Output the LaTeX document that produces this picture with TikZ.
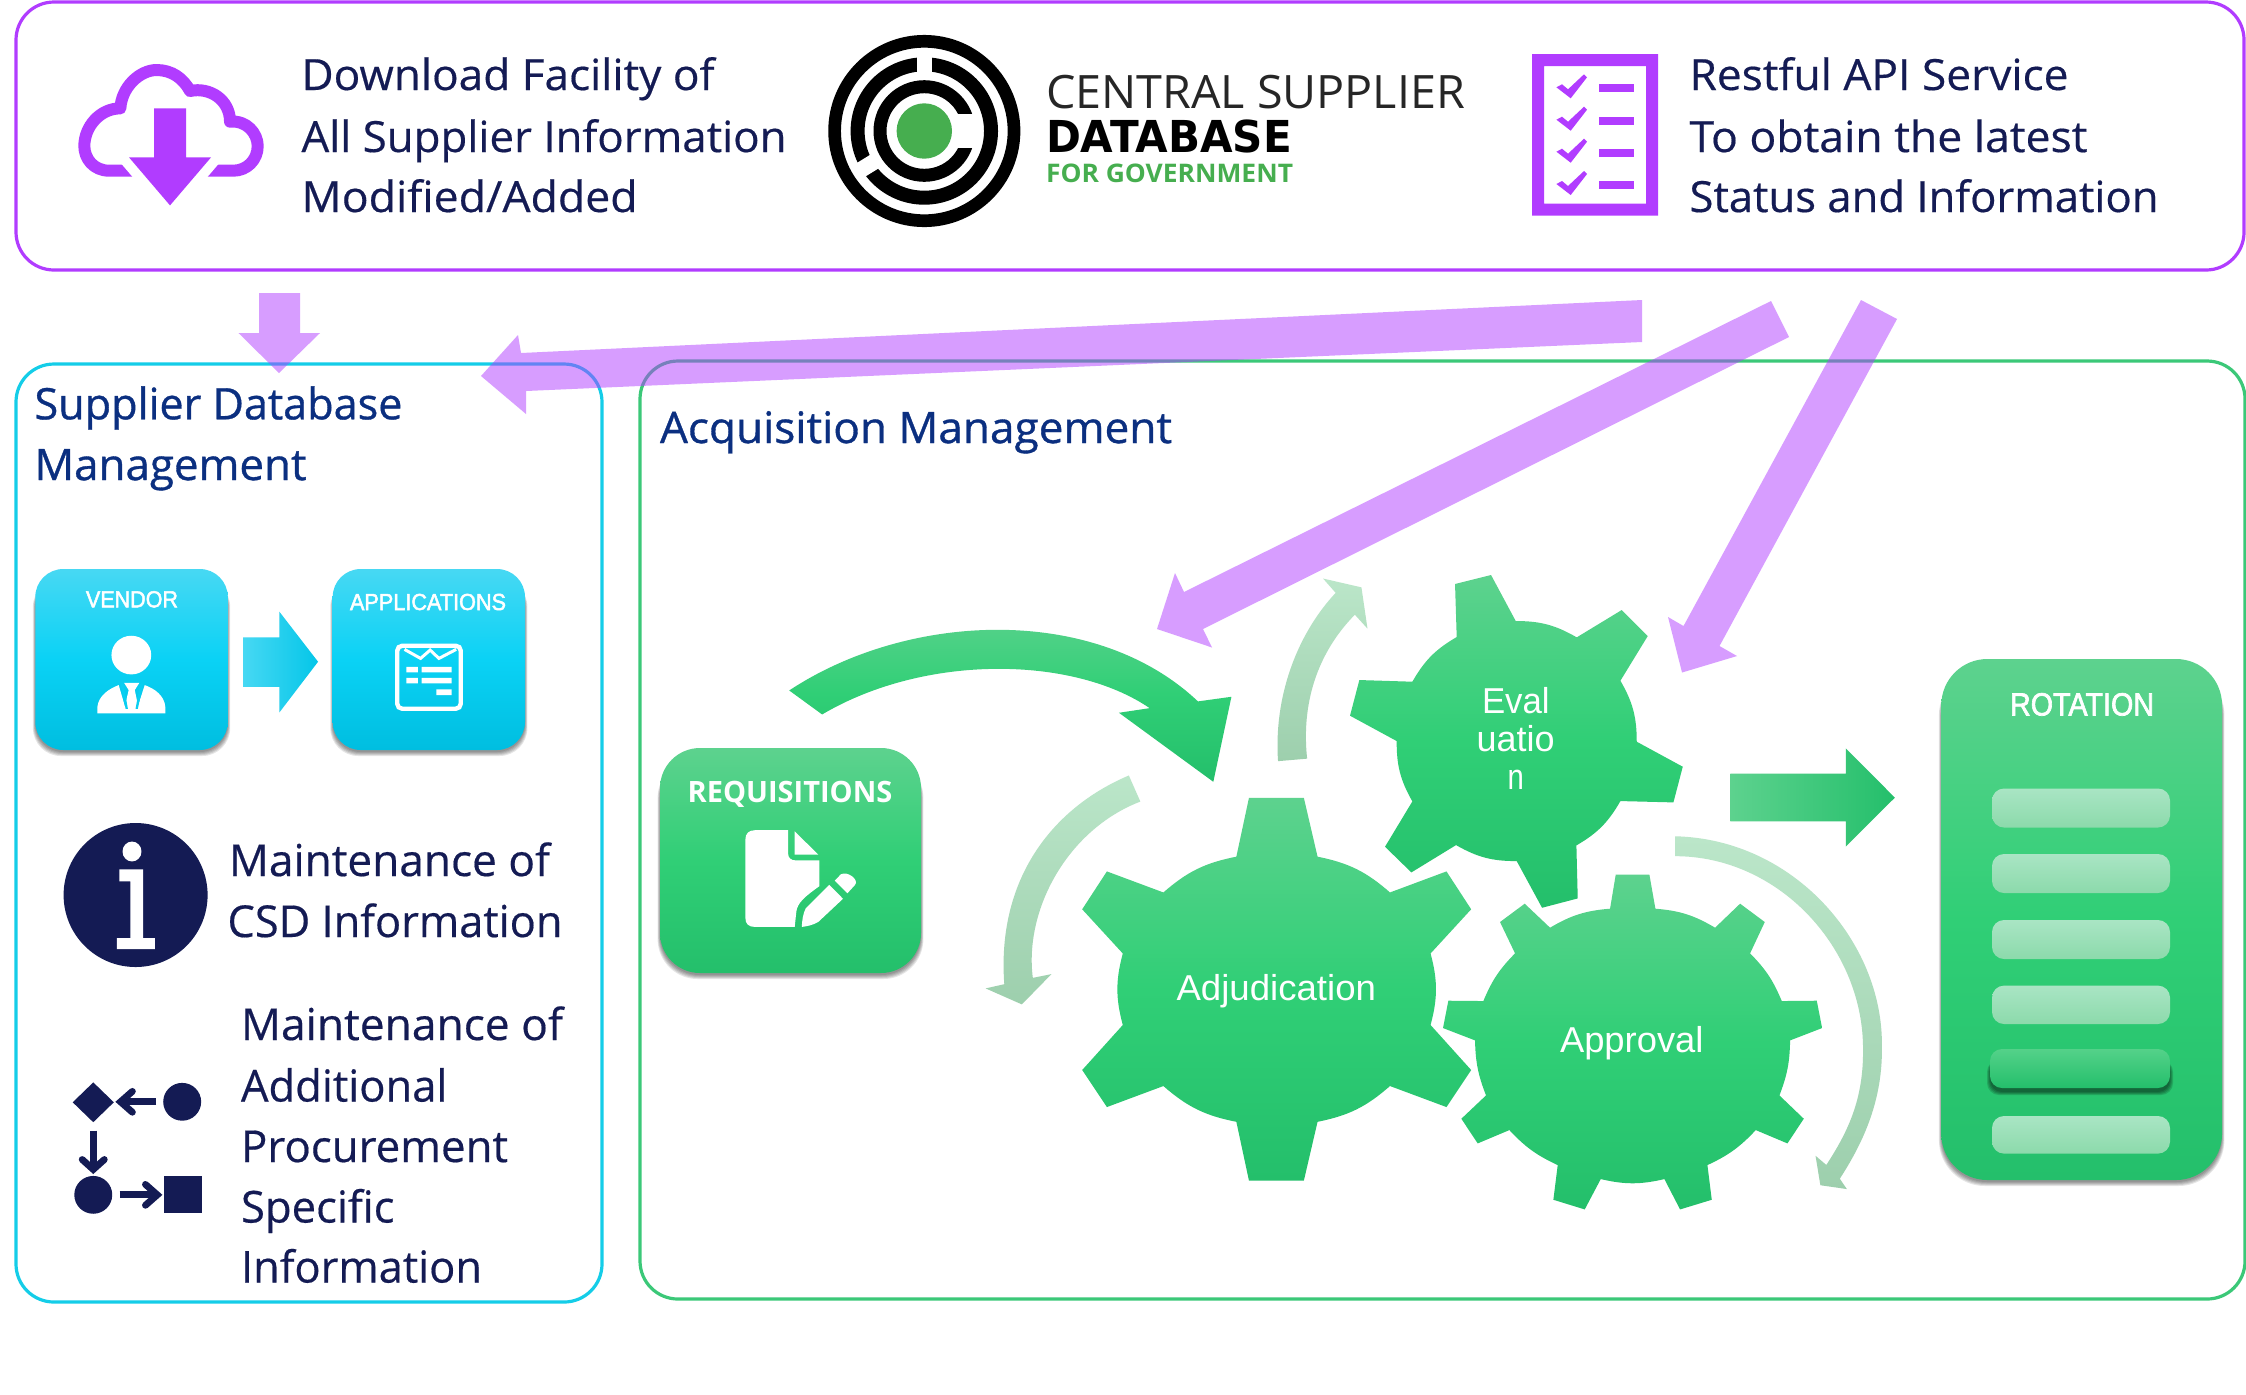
\documentclass[tikz,border=0pt]{standalone}
\usepackage{graphicx}
\usepackage{fontspec}
\setmainfont{Open Sans}
\newfontfamily\bodyf[FakeBold=0.4]{Open Sans}
\newfontfamily\ttlf[FakeBold=0.8]{Open Sans}
\newfontfamily\arl{Liberation Sans}
\newfontfamily\arlb[FakeBold=2.2]{Liberation Sans}
\newfontfamily\dvs{DejaVu Sans}
\definecolor{purp}{HTML}{B13CFF}
\definecolor{navy}{HTML}{141B54}
\definecolor{ttl}{HTML}{0B2F80}
\definecolor{gtop}{HTML}{5DD28E}
\definecolor{gmid}{HTML}{30CF76}
\definecolor{gbot}{HTML}{24BF6B}
\definecolor{ctop}{HTML}{47D8F3}
\definecolor{cmid}{HTML}{0AD2F5}
\definecolor{cbot}{HTML}{00BEE0}
\definecolor{ltop}{HTML}{BBE6C9}
\definecolor{lbot}{HTML}{9DCFAD}
\definecolor{logogreen}{HTML}{46AE4F}
\definecolor{framecyan}{HTML}{14CDE8}
\definecolor{framegreen}{HTML}{3BC878}
\definecolor{bartop}{HTML}{A9E5C4}
\definecolor{barbot}{HTML}{8CDAAB}
\newcommand\rb[2]{\resizebox{0.5\dimexpr #1pt\relax}{\height}{#2}}
\newcommand\softsh[5]{\foreach \i in {0,...,4}{\fill[black,opacity=.1,rounded corners=#5pt] ({#1-\i*0.6},{#2+10}) rectangle ({#3+\i*0.6},{#4+2+\i});}}
\tikzset{
  tx/.style={inner sep=0pt,outer sep=0pt,anchor=base west},
  body/.style={tx,text=navy,font=\bodyf\fontsize{21.5}{24}\selectfont},
  bodyl/.style={tx,text=navy,font=\bodyf\fontsize{22}{24}\selectfont},
  title/.style={tx,text=ttl,font=\ttlf\fontsize{21.7}{24}\selectfont},
  gearlbl/.style={tx,text=white,font=\arl\fontsize{18}{20}\selectfont},
  gearfill/.style={top color=gtop,bottom color=gbot,middle color=gmid},
  cyanfill/.style={top color=ctop,bottom color=cbot,middle color=cmid},
  lightfill/.style={top color=ltop,bottom color=lbot},
  blockarrow/.style={fill=purp,opacity=.5},
  panel/.style={draw,line width=1.6pt,rounded corners=19pt}
}
\begin{document}
\begin{tikzpicture}[x=0.5pt,y=-0.5pt]
\useasboundingbox (0,0) rectangle (2246,1394);
\fill[white] (0,0) rectangle (2246,1394);

% frames
\path[panel,draw=purp] (16,2) rectangle (2244,270);
\path[panel,draw=framecyan] (16,364) rectangle (602,1302);
\path[panel,draw=framegreen] (640,361) rectangle (2245,1299);

% cloud icon
\begin{scope}[shift={(60,40)},x=0.1667pt,y=-0.1667pt]
\draw[purp,line width=6pt,line join=round] (240,392) -- (148,392) .. controls (100,392) and (73,355) .. (73,318) .. controls (73,260) and (120,205) .. (181,205) .. controls (185,140) and (240,90) .. (290,90) .. controls (335,90) and (370,115) .. (390,153) .. controls (450,140) and (510,180) .. (510,245) .. controls (560,240) and (593,280) .. (593,318) .. controls (593,360) and (560,392) .. (520,392) -- (420,392);
\fill[white] (207,352) -- (282,352) -- (282,205) -- (378,205) -- (378,352) -- (453,352) -- (330,496) -- cycle;
\draw[white,line width=10pt,line join=round] (207,352) -- (330,496) -- (453,352);
\fill[purp] (282,205) -- (378,205) -- (378,352) -- (453,352) -- (330,496) -- (207,352) -- (282,352) -- cycle;
\end{scope}

\node[body] (t1) at (301.5,90) {\rb{413}{Download Facility of}};
\node[body] (t2) at (301.5,152) {\rb{485}{All Supplier Information}};
\node[body] (t3) at (301.5,212) {\rb{336}{Modified/Added}};

% logo
\draw[black,line width=6.35pt] (924.3,131) circle [radius=89.7];
\draw[black,line width=7pt] (924.3,131) circle [radius=66.7];
\draw[black,line width=6.5pt] (924.3,131) circle [radius=44.3];
\draw[white,line width=7.5pt] (924.3,52) -- (924.3,80);
\draw[white,line width=8pt] (879.1,158.7) -- (856.1,172.8);
\fill[white] (955,114) rectangle (977,148);
\fill[logogreen] (924.3,131) circle [radius=27.7];
\node[tx,text=black!85,font=\fontsize{23}{25}\selectfont] (l1) at (1046,108.3) {\rb{419}{CENTRAL SUPPLIER}};
\node[tx,text=black,font=\dvs\bfseries\fontsize{22}{25}\selectfont] (l2) at (1046,152) {\rb{246}{DATABASE}};
\node[tx,text=logogreen,font=\bfseries\fontsize{12.8}{15}\selectfont] (l3) at (1046,182) {\rb{247}{FOR GOVERNMENT}};

% checklist
\fill[purp,even odd rule] (1532,54) rectangle (1658,215.7) (1544,66) rectangle (1646,203.7);
\foreach \yc in {88.3,120.7,152.7,185}{
  \fill[purp] (1599.4,\yc-4) rectangle (1633.7,\yc+4);
  \fill[purp] (1556.4,\yc-1) -- (1562,\yc-4) -- (1568,\yc+1) -- (1584,\yc-14) -- (1587,\yc-11) -- (1570.7,\yc+10) -- cycle;
}
\node[body] (r1) at (1689.5,90) {\rb{379}{Restful API Service}};
\node[body] (r2) at (1689.5,152) {\rb{398}{To obtain the latest}};
\node[body] (r3) at (1689.5,212) {\rb{469}{Status and Information}};

% titles
\node[title] (sdb1) at (34.5,419.3) {\rb{368}{Supplier Database}};
\node[title] (sdb2) at (34.5,480) {\rb{272}{Management}};
\node[title] (acq) at (660,443) {\rb{512}{Acquisition Management}};

% vendor / applications
\softsh{35.3}{569}{227.8}{750}{14}
\softsh{332.7}{569}{525}{750}{14}
\shade[cyanfill,rounded corners=14pt] (35.3,569) rectangle (227.8,750);
\shade[cyanfill,rounded corners=14pt] (332.7,569) rectangle (525,750);
\node[tx,text=white,font=\arlb\fontsize{11.6}{13}\selectfont] (vend) at (86,607.3) {\rb{92}{VENDOR}};
\node[tx,text=white,font=\arlb\fontsize{11.6}{13}\selectfont] (apps) at (350,610) {\rb{156}{APPLICATIONS}};
\begin{scope}[shift={(20,360)},x=0.1913pt,y=-0.1667pt]
\fill[white] (291,885) ellipse [x radius=52,y radius=58];
\fill[white] (202,1060) -- (202,1042) .. controls (205,1005) and (235,985) .. (258,975) -- (276,1046) -- (306,1046) -- (326,975) .. controls (350,985) and (378,1005) .. (380,1042) -- (380,1060) -- cycle;
\fill[white] (272,968) -- (312,968) -- (300,990) -- (310,1045) -- (292,1052) -- (273,1045) -- (284,990) -- cycle;
\fill[cmid!85!cbot] (262,970) -- (270,970) -- (282,1046) -- (276,1046) -- cycle;
\fill[cmid!85!cbot] (322,970) -- (314,970) -- (302,1046) -- (308,1046) -- cycle;
\shade[left color=ctop,right color=cbot!60!cmid] (583,832) -- (678,832) -- (678,755) -- (779,905) -- (678,1057) -- (678,980) -- (583,980) -- cycle;
\draw[white,line width=2.2pt,rounded corners=2.5pt] (986,857) rectangle (1152,1046);
\draw[white,line width=1.5pt] (1005,868) -- (1047,895) -- (1072,870) -- (1095,895) -- (1140,868);
\fill[white] (1010,920) rectangle (1040,937) (1050,920) rectangle (1128,937) (1010,953) rectangle (1040,970) (1050,953) rectangle (1128,970) (1088,988) rectangle (1128,1005);
\end{scope}

% info icon
\fill[navy] (135.6,895) circle [radius=72];
\begin{scope}[shift={(0,540)},x=0.1976pt,y=-0.2488pt]
\fill[white] (334,626) ellipse [x radius=24,y radius=20];
\fill[white] (302,662) -- (362,662) -- (362,800) -- (392,800) -- (392,822) -- (296,822) -- (296,800) -- (330,800) -- (330,686) -- (302,686) -- cycle;
% flow icon
\fill[navy] (184,1130) -- (236,1090) -- (288,1130) -- (236,1170) -- cycle;
\fill[navy] (461,1129) ellipse [x radius=48,y radius=38];
\fill[navy] (236,1316) ellipse [x radius=48,y radius=38];
\fill[navy] (414,1278) rectangle (510,1353);
\draw[navy,line width=3.4pt] (395,1129) -- (305,1129);
\draw[navy,line width=3.4pt,line cap=round,line join=miter] (335,1108) -- (305,1129) -- (335,1150);
\draw[navy,line width=3.4pt] (236,1187) -- (236,1265);
\draw[navy,line width=3.4pt,line cap=round,line join=miter] (208,1245) -- (236,1265) -- (264,1245);
\draw[navy,line width=3.4pt] (303,1316) -- (398,1316);
\draw[navy,line width=3.4pt,line cap=round,line join=miter] (368,1295) -- (398,1316) -- (368,1337);
\end{scope}

\node[bodyl] (m1) at (229,876) {\rb{321}{Maintenance of}};
\node[bodyl] (m2) at (227.5,937) {\rb{335}{CSD Information}};
\node[bodyl] (a1) at (241,1040) {\rb{322}{Maintenance of}};
\node[bodyl] (a2) at (241,1101.5) {\rb{206.4}{Additional}};
\node[bodyl] (a3) at (241,1162) {\rb{267}{Procurement}};
\node[bodyl] (a4) at (241,1222.5) {\rb{153.5}{Specific}};
\node[bodyl] (a5) at (241,1282.5) {\rb{241}{Information}};

% requisitions panel + adjudication gear + arrows
\softsh{660}{748}{921}{973}{20}
\shade[gearfill,rounded corners=20pt] (660,748) rectangle (921,973);
\node[tx,text=white,font=\bfseries\fontsize{14.7}{17}\selectfont] (req) at (687.7,802) {\rb{204.6}{REQUISITIONS}};
\begin{scope}[shift={(640,560)},x=0.2743pt,y=-0.2104pt]
\fill[white] (270,642) -- (210,642) .. controls (198,642) and (192,650) .. (192,665) -- (192,850) .. controls (192,865) and (198,872) .. (210,872) -- (282,872) -- (285,835) .. controls (287,815) and (300,800) .. (327,775) -- (327,714) -- (285,714) .. controls (275,714) and (270,708) .. (270,698) -- cycle;
\fill[white] (282,645) -- (325,700) -- (282,700) -- cycle;
\fill[white] (345,772) -- (370,805) -- (325,860) .. controls (315,868) and (305,870) .. (295,872) .. controls (295,860) and (297,840) .. (302,828) -- cycle;
\fill[white] (355,762) -- (366,747) .. controls (378,738) and (400,760) .. (392,772) -- (378,792) -- cycle;
% curved green
\shade[gearfill] (272,310) .. controls (490,122) and (830,105) .. (1017,336) -- (1078,325) -- (1045,527) -- (873,363) -- (929,352) .. controls (790,228) and (520,222) .. (332,367) -- cycle;
% light up arrow
\shade[lightfill] (1163,478) .. controls (1155,330) and (1195,180) .. (1268,78) -- (1245,44) -- (1315,65) -- (1326,163) -- (1303,130) .. controls (1235,220) and (1205,340) .. (1216,472) -- cycle;
% light down-left arrow
\shade[lightfill] (891,512) .. controls (750,590) and (650,760) .. (664,1008) -- (630,1018) -- (696,1056) -- (750,984) -- (716,993) .. controls (700,830) and (780,640) .. (912,574) -- cycle;
% adjudication gear
\shade[gearfill] (1110,565) -- (1210,565) -- (1235,705) to[bend left=15] (1367,790) -- (1470,740) -- (1515,830) -- (1441,935) to[bend left=15] (1441,1105) -- (1515,1212) -- (1470,1300) -- (1367,1250) to[bend left=15] (1235,1335) -- (1210,1475) -- (1110,1475) -- (1087,1335) to[bend left=15] (954,1250) -- (851,1300) -- (806,1212) -- (880,1105) to[bend left=15] (880,935) -- (806,830) -- (851,740) -- (954,790) to[bend left=15] (1087,705) -- cycle;
\end{scope}
\node[gearlbl] (adj) at (1176.5,1000.6) {\rb{199.5}{Adjudication}};

% evaluation gear
\begin{scope}[shift={(1330,560)},x=0.1667pt,y=-0.1667pt]
\shade[gearfill] (375,72) -- (483,45) -- (557,183) to[bend left=15] (740,232) -- (875,150) -- (953,228) -- (871,362) to[bend left=15] (920,545) -- (1058,620) -- (1030,727) -- (871,723) to[bend left=15] (739,856) -- (743,1015) -- (636,1043) -- (560,903) to[bend left=15] (378,855) -- (244,937) -- (165,860) -- (247,724) to[bend left=15] (200,543) -- (60,467) -- (88,360) -- (247,365) to[bend left=15] (380,231) -- cycle;
\end{scope}
\node[gearlbl] (ev1) at (1482,713) {\rb{67.7}{Eval}};
\node[gearlbl] (ev2) at (1476.7,751.7) {\rb{78}{uatio}};
\node[gearlbl] (ev3) at (1507.7,789.3) {\rb{16.3}{n}};

% approval gear
\begin{scope}[shift={(1420,860)},x=0.1667pt,y=-0.1667pt]
\shade[gearfill] (587,44) -- (688,44) -- (706,146) to[bend left=13] (885,203) -- (960,131) -- (1034,186) -- (990,280) to[bend left=11] (1085,423) -- (1190,422) -- (1206,504) -- (1110,541) to[bend left=10] (1078,706) -- (1151,776) -- (1102,850) -- (1007,810) to[bend left=11] (862,915) -- (875,1019) -- (780,1048) -- (733,957) to[bend left=13] (542,957) -- (494,1048) -- (400,1019) -- (413,915) to[bend left=11] (268,810) -- (173,850) -- (124,776) -- (198,706) to[bend left=10] (165,541) -- (69,504) -- (85,422) -- (190,423) to[bend left=11] (285,280) -- (240,186) -- (314,131) -- (390,203) to[bend left=13] (570,146) -- cycle;
\end{scope}
\node[gearlbl] (appr) at (1560,1052.3) {\rb{143.5}{Approval}};

% rotation panel, arrow, light arc
\begin{scope}[shift={(1400,640)},x=0.2698pt,y=-0.1913pt]
\shade[lightfill] (510,513) .. controls (730,520) and (895,790) .. (893,1060) .. controls (895,1200) and (860,1310) .. (815,1408) -- (828,1435) -- (779,1425) -- (770,1348) -- (790,1372) .. controls (835,1275) and (860,1190) .. (858,1060) .. controls (855,800) and (700,565) .. (510,565) -- cycle;
\shade[left color=gtop,right color=gbot] (612,349) -- (826,349) -- (826,283) -- (917,412) -- (826,540) -- (826,474) -- (612,474) -- cycle;
\end{scope}
\softsh{1941.3}{659}{2222}{1180}{23}
\shade[gearfill,rounded corners=23pt] (1941.3,659) rectangle (2222,1180);
\node[tx,text=white,font=\arlb\fontsize{16}{18}\selectfont] (rot) at (2010,715.4) {\rb{144}{ROTATION}};
\foreach \a/\b in {788.5/827.5,854/893,920/959,985.6/1024,1116/1153.6}{
  \shade[top color=bartop,bottom color=barbot,rounded corners=6pt] (1992,\a) rectangle (2170,\b);
}
\foreach \i in {0,...,3}{\fill[black,opacity=.15,rounded corners=6pt] ({1990-\i},{1060}) rectangle ({2170+\i},{1092+\i});}
\shade[top color=gtop!80!gmid,bottom color=gbot,rounded corners=6pt] (1990,1049) rectangle (2170,1088);

% purple block arrows
\path[blockarrow] (259,293) -- (300,293) -- (300,333) -- (320,333) -- (279,373) -- (238.5,333) -- (259,333) -- cycle;
\path[blockarrow] (1642,300) -- (1642,342) -- (526,391) -- (526,414) -- (481,376) -- (518,335) -- (521,353) -- cycle;
\path[blockarrow] (1771,301) -- (1789,337) -- (1203,629) -- (1212,647.5) -- (1157,629) -- (1175,573) -- (1184,592) -- cycle;
\path[blockarrow] (1861,300) -- (1897,319) -- (1719.5,646) -- (1737,656) -- (1682,672.5) -- (1668,617) -- (1683.5,626) -- cycle;
\end{tikzpicture}
\end{document}
